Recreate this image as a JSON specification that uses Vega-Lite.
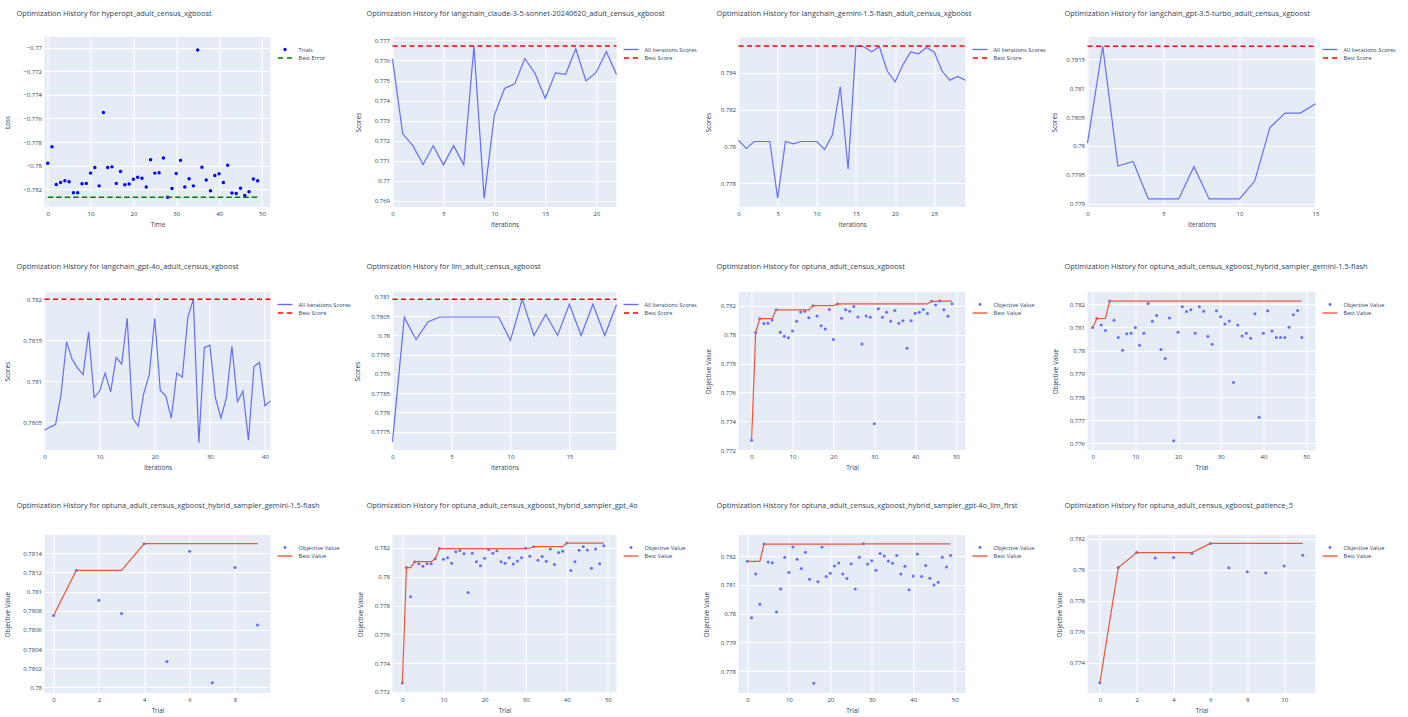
{
"$schema": "https://vega.github.io/schema/vega-lite/v6.json",
"background": "white",
"padding": {"left": 3.5, "top": 9, "right": 0, "bottom": 0},
"datasets": {
"p1": [{"x":0,"y":-0.77979,"b":-0.78267},{"x":1,"y":-0.77839,"b":-0.78267},{"x":2,"y":-0.78159,"b":-0.78267},{"x":3,"y":-0.78142,"b":-0.78267},{"x":4,"y":-0.78127,"b":-0.78267},{"x":5,"y":-0.78136,"b":-0.78267},{"x":6,"y":-0.78229,"b":-0.78267},{"x":7,"y":-0.78229,"b":-0.78267},{"x":8,"y":-0.78153,"b":-0.78267},{"x":9,"y":-0.7815,"b":-0.78267},{"x":10,"y":-0.78063,"b":-0.78267},{"x":11,"y":-0.78016,"b":-0.78267},{"x":12,"y":-0.78171,"b":-0.78267},{"x":13,"y":-0.7755,"b":-0.78267},{"x":14,"y":-0.78016,"b":-0.78267},{"x":15,"y":-0.7801,"b":-0.78267},{"x":16,"y":-0.7815,"b":-0.78267},{"x":17,"y":-0.78049,"b":-0.78267},{"x":18,"y":-0.78162,"b":-0.78267},{"x":19,"y":-0.78156,"b":-0.78267},{"x":20,"y":-0.78115,"b":-0.78267},{"x":21,"y":-0.78098,"b":-0.78267},{"x":22,"y":-0.78107,"b":-0.78267},{"x":23,"y":-0.7818,"b":-0.78267},{"x":24,"y":-0.77949,"b":-0.78267},{"x":25,"y":-0.78063,"b":-0.78267},{"x":26,"y":-0.7806,"b":-0.78267},{"x":27,"y":-0.77935,"b":-0.78267},{"x":28,"y":-0.78267,"b":-0.78267},{"x":29,"y":-0.78194,"b":-0.78267},{"x":30,"y":-0.78066,"b":-0.78267},{"x":31,"y":-0.77955,"b":-0.78267},{"x":32,"y":-0.7818,"b":-0.78267},{"x":33,"y":-0.7811,"b":-0.78267},{"x":34,"y":-0.78171,"b":-0.78267},{"x":35,"y":-0.7702,"b":-0.78267},{"x":36,"y":-0.78013,"b":-0.78267},{"x":37,"y":-0.78121,"b":-0.78267},{"x":38,"y":-0.78212,"b":-0.78267},{"x":39,"y":-0.78083,"b":-0.78267},{"x":40,"y":-0.78069,"b":-0.78267},{"x":41,"y":-0.78142,"b":-0.78267},{"x":42,"y":-0.77996,"b":-0.78267},{"x":43,"y":-0.78232,"b":-0.78267},{"x":44,"y":-0.78235,"b":-0.78267},{"x":45,"y":-0.78191,"b":-0.78267},{"x":46,"y":-0.78252,"b":-0.78267},{"x":47,"y":-0.7822,"b":-0.78267},{"x":48,"y":-0.78112,"b":-0.78267},{"x":49,"y":-0.78127,"b":-0.78267}],
"p2": [{"x":0,"y":0.77608,"b":0.77672},{"x":1,"y":0.77234,"b":0.77672},{"x":2,"y":0.77175,"b":0.77672},{"x":3,"y":0.77081,"b":0.77672},{"x":4,"y":0.77175,"b":0.77672},{"x":5,"y":0.77079,"b":0.77672},{"x":6,"y":0.77175,"b":0.77672},{"x":7,"y":0.77079,"b":0.77672},{"x":8,"y":0.77672,"b":0.77672},{"x":9,"y":0.76912,"b":0.77672},{"x":10,"y":0.77326,"b":0.77672},{"x":11,"y":0.7746,"b":0.77672},{"x":12,"y":0.77483,"b":0.77672},{"x":13,"y":0.7761,"b":0.77672},{"x":14,"y":0.77535,"b":0.77672},{"x":15,"y":0.77411,"b":0.77672},{"x":16,"y":0.77538,"b":0.77672},{"x":17,"y":0.77531,"b":0.77672},{"x":18,"y":0.77658,"b":0.77672},{"x":19,"y":0.77498,"b":0.77672},{"x":20,"y":0.7754,"b":0.77672},{"x":21,"y":0.77644,"b":0.77672},{"x":22,"y":0.7753,"b":0.77672}],
"p3": [{"x":0,"y":0.78033,"b":0.78546},{"x":1,"y":0.77989,"b":0.78546},{"x":2,"y":0.78027,"b":0.78546},{"x":3,"y":0.78027,"b":0.78546},{"x":4,"y":0.78027,"b":0.78546},{"x":5,"y":0.77719,"b":0.78546},{"x":6,"y":0.78027,"b":0.78546},{"x":7,"y":0.78014,"b":0.78546},{"x":8,"y":0.78027,"b":0.78546},{"x":9,"y":0.78027,"b":0.78546},{"x":10,"y":0.78027,"b":0.78546},{"x":11,"y":0.77984,"b":0.78546},{"x":12,"y":0.78063,"b":0.78546},{"x":13,"y":0.78326,"b":0.78546},{"x":14,"y":0.77876,"b":0.78546},{"x":15,"y":0.78546,"b":0.78546},{"x":16,"y":0.78542,"b":0.78546},{"x":17,"y":0.78515,"b":0.78546},{"x":18,"y":0.78542,"b":0.78546},{"x":19,"y":0.7841,"b":0.78546},{"x":20,"y":0.78351,"b":0.78546},{"x":21,"y":0.78444,"b":0.78546},{"x":22,"y":0.78514,"b":0.78546},{"x":23,"y":0.78504,"b":0.78546},{"x":24,"y":0.78538,"b":0.78546},{"x":25,"y":0.78514,"b":0.78546},{"x":26,"y":0.7841,"b":0.78546},{"x":27,"y":0.7836,"b":0.78546},{"x":28,"y":0.78381,"b":0.78546},{"x":29,"y":0.7836,"b":0.78546}],
"p4": [{"x":0,"y":0.78005,"b":0.78173},{"x":1,"y":0.78173,"b":0.78173},{"x":2,"y":0.77965,"b":0.78173},{"x":3,"y":0.77973,"b":0.78173},{"x":4,"y":0.77908,"b":0.78173},{"x":5,"y":0.77908,"b":0.78173},{"x":6,"y":0.77908,"b":0.78173},{"x":7,"y":0.77964,"b":0.78173},{"x":8,"y":0.77908,"b":0.78173},{"x":9,"y":0.77908,"b":0.78173},{"x":10,"y":0.77908,"b":0.78173},{"x":11,"y":0.77939,"b":0.78173},{"x":12,"y":0.78032,"b":0.78173},{"x":13,"y":0.78057,"b":0.78173},{"x":14,"y":0.78057,"b":0.78173},{"x":15,"y":0.78073,"b":0.78173}],
"p5": [{"x":0,"y":0.7804,"b":0.782},{"x":1,"y":0.78044,"b":0.782},{"x":2,"y":0.78047,"b":0.782},{"x":3,"y":0.78084,"b":0.782},{"x":4,"y":0.78148,"b":0.782},{"x":5,"y":0.78127,"b":0.782},{"x":6,"y":0.78116,"b":0.782},{"x":7,"y":0.78108,"b":0.782},{"x":8,"y":0.7816,"b":0.782},{"x":9,"y":0.7808,"b":0.782},{"x":10,"y":0.78088,"b":0.782},{"x":11,"y":0.7811,"b":0.782},{"x":12,"y":0.78087,"b":0.782},{"x":13,"y":0.78129,"b":0.782},{"x":14,"y":0.78121,"b":0.782},{"x":15,"y":0.78177,"b":0.782},{"x":16,"y":0.78055,"b":0.782},{"x":17,"y":0.78045,"b":0.782},{"x":18,"y":0.78085,"b":0.782},{"x":19,"y":0.78108,"b":0.782},{"x":20,"y":0.78177,"b":0.782},{"x":21,"y":0.78089,"b":0.782},{"x":22,"y":0.78082,"b":0.782},{"x":23,"y":0.78055,"b":0.782},{"x":24,"y":0.7811,"b":0.782},{"x":25,"y":0.78105,"b":0.782},{"x":26,"y":0.78178,"b":0.782},{"x":27,"y":0.782,"b":0.782},{"x":28,"y":0.78025,"b":0.782},{"x":29,"y":0.78141,"b":0.782},{"x":30,"y":0.78144,"b":0.782},{"x":31,"y":0.7808,"b":0.782},{"x":32,"y":0.78055,"b":0.782},{"x":33,"y":0.7808,"b":0.782},{"x":34,"y":0.78143,"b":0.782},{"x":35,"y":0.78075,"b":0.782},{"x":36,"y":0.78088,"b":0.782},{"x":37,"y":0.78028,"b":0.782},{"x":38,"y":0.78118,"b":0.782},{"x":39,"y":0.78123,"b":0.782},{"x":40,"y":0.7807,"b":0.782},{"x":41,"y":0.78076,"b":0.782}],
"p6": [{"x":0,"y":0.77723,"b":0.78094},{"x":1,"y":0.78047,"b":0.78094},{"x":2,"y":0.77989,"b":0.78094},{"x":3,"y":0.78035,"b":0.78094},{"x":4,"y":0.78048,"b":0.78094},{"x":5,"y":0.78048,"b":0.78094},{"x":6,"y":0.78048,"b":0.78094},{"x":7,"y":0.78048,"b":0.78094},{"x":8,"y":0.78048,"b":0.78094},{"x":9,"y":0.78048,"b":0.78094},{"x":10,"y":0.77987,"b":0.78094},{"x":11,"y":0.78094,"b":0.78094},{"x":12,"y":0.78,"b":0.78094},{"x":13,"y":0.78055,"b":0.78094},{"x":14,"y":0.78,"b":0.78094},{"x":15,"y":0.78081,"b":0.78094},{"x":16,"y":0.78,"b":0.78094},{"x":17,"y":0.78081,"b":0.78094},{"x":18,"y":0.78,"b":0.78094},{"x":19,"y":0.7808,"b":0.78094}],
"p7": [{"x":0,"y":0.77268,"b":0.77268},{"x":1,"y":0.78015,"b":0.78015},{"x":2,"y":0.78112,"b":0.78112},{"x":3,"y":0.78078,"b":0.78112},{"x":4,"y":0.7808,"b":0.78112},{"x":5,"y":0.78103,"b":0.78112},{"x":6,"y":0.78173,"b":0.78173},{"x":7,"y":0.78017,"b":0.78173},{"x":8,"y":0.7799,"b":0.78173},{"x":9,"y":0.77979,"b":0.78173},{"x":10,"y":0.78026,"b":0.78173},{"x":11,"y":0.78094,"b":0.78173},{"x":12,"y":0.78159,"b":0.78173},{"x":13,"y":0.78164,"b":0.78173},{"x":14,"y":0.78119,"b":0.78173},{"x":15,"y":0.78202,"b":0.78202},{"x":16,"y":0.7813,"b":0.78202},{"x":17,"y":0.78062,"b":0.78202},{"x":18,"y":0.7804,"b":0.78202},{"x":19,"y":0.78175,"b":0.78202},{"x":20,"y":0.77968,"b":0.78202},{"x":21,"y":0.78214,"b":0.78214},{"x":22,"y":0.78114,"b":0.78214},{"x":23,"y":0.78173,"b":0.78214},{"x":24,"y":0.78164,"b":0.78214},{"x":25,"y":0.78196,"b":0.78214},{"x":26,"y":0.78123,"b":0.78214},{"x":27,"y":0.77936,"b":0.78214},{"x":28,"y":0.7813,"b":0.78214},{"x":29,"y":0.78121,"b":0.78214},{"x":30,"y":0.77383,"b":0.78214},{"x":31,"y":0.7818,"b":0.78214},{"x":32,"y":0.78121,"b":0.78214},{"x":33,"y":0.78157,"b":0.78214},{"x":34,"y":0.78094,"b":0.78214},{"x":35,"y":0.78168,"b":0.78214},{"x":36,"y":0.7808,"b":0.78214},{"x":37,"y":0.78098,"b":0.78214},{"x":38,"y":0.77907,"b":0.78214},{"x":39,"y":0.78098,"b":0.78214},{"x":40,"y":0.7815,"b":0.78214},{"x":41,"y":0.78157,"b":0.78214},{"x":42,"y":0.78175,"b":0.78214},{"x":43,"y":0.78148,"b":0.78214},{"x":44,"y":0.78232,"b":0.78232},{"x":45,"y":0.78207,"b":0.78232},{"x":46,"y":0.78234,"b":0.78234},{"x":47,"y":0.78173,"b":0.78234},{"x":48,"y":0.78128,"b":0.78234},{"x":49,"y":0.78216,"b":0.78234}],
"p8": [{"x":0,"y":0.78099,"b":0.78099},{"x":1,"y":0.78138,"b":0.78138},{"x":2,"y":0.7811,"b":0.78138},{"x":3,"y":0.78086,"b":0.78138},{"x":4,"y":0.78213,"b":0.78213},{"x":5,"y":0.7813,"b":0.78213},{"x":6,"y":0.78056,"b":0.78213},{"x":7,"y":0.78001,"b":0.78213},{"x":8,"y":0.78072,"b":0.78213},{"x":9,"y":0.78074,"b":0.78213},{"x":10,"y":0.78099,"b":0.78213},{"x":11,"y":0.78023,"b":0.78213},{"x":12,"y":0.78074,"b":0.78213},{"x":13,"y":0.78203,"b":0.78213},{"x":14,"y":0.78126,"b":0.78213},{"x":15,"y":0.78151,"b":0.78213},{"x":16,"y":0.78004,"b":0.78213},{"x":17,"y":0.77966,"b":0.78213},{"x":18,"y":0.7814,"b":0.78213},{"x":19,"y":0.77612,"b":0.78213},{"x":20,"y":0.78079,"b":0.78213},{"x":21,"y":0.78189,"b":0.78213},{"x":22,"y":0.78168,"b":0.78213},{"x":23,"y":0.78176,"b":0.78213},{"x":24,"y":0.78074,"b":0.78213},{"x":25,"y":0.78189,"b":0.78213},{"x":26,"y":0.78169,"b":0.78213},{"x":27,"y":0.78061,"b":0.78213},{"x":28,"y":0.78027,"b":0.78213},{"x":29,"y":0.78171,"b":0.78213},{"x":30,"y":0.78145,"b":0.78213},{"x":31,"y":0.78114,"b":0.78213},{"x":32,"y":0.78127,"b":0.78213},{"x":33,"y":0.77862,"b":0.78213},{"x":34,"y":0.7811,"b":0.78213},{"x":35,"y":0.78063,"b":0.78213},{"x":36,"y":0.78075,"b":0.78213},{"x":37,"y":0.78053,"b":0.78213},{"x":38,"y":0.78158,"b":0.78213},{"x":39,"y":0.77713,"b":0.78213},{"x":40,"y":0.78075,"b":0.78213},{"x":41,"y":0.78171,"b":0.78213},{"x":42,"y":0.78084,"b":0.78213},{"x":43,"y":0.78056,"b":0.78213},{"x":44,"y":0.78056,"b":0.78213},{"x":45,"y":0.78056,"b":0.78213},{"x":46,"y":0.781,"b":0.78213},{"x":47,"y":0.78154,"b":0.78213},{"x":48,"y":0.78172,"b":0.78213},{"x":49,"y":0.78056,"b":0.78213}],
"p9": [{"x":0,"y":0.78075,"b":0.78075},{"x":1,"y":0.78122,"b":0.78122},{"x":2,"y":0.78091,"b":0.78122},{"x":3,"y":0.78077,"b":0.78122},{"x":4,"y":0.7815,"b":0.7815},{"x":5,"y":0.78027,"b":0.7815},{"x":6,"y":0.78142,"b":0.7815},{"x":7,"y":0.78005,"b":0.7815},{"x":8,"y":0.78125,"b":0.7815},{"x":9,"y":0.78065,"b":0.7815}],
"p10": [{"x":0,"y":0.77263,"b":0.77263},{"x":1,"y":0.78064,"b":0.78064},{"x":2,"y":0.77861,"b":0.78064},{"x":3,"y":0.78105,"b":0.78105},{"x":4,"y":0.78091,"b":0.78105},{"x":5,"y":0.78073,"b":0.78105},{"x":6,"y":0.78091,"b":0.78105},{"x":7,"y":0.78091,"b":0.78105},{"x":8,"y":0.78125,"b":0.78125},{"x":9,"y":0.78196,"b":0.78196},{"x":10,"y":0.78121,"b":0.78196},{"x":11,"y":0.78132,"b":0.78196},{"x":12,"y":0.78094,"b":0.78196},{"x":13,"y":0.78173,"b":0.78196},{"x":14,"y":0.78182,"b":0.78196},{"x":15,"y":0.78159,"b":0.78196},{"x":16,"y":0.7789,"b":0.78196},{"x":17,"y":0.78164,"b":0.78196},{"x":18,"y":0.78105,"b":0.78196},{"x":19,"y":0.78076,"b":0.78196},{"x":20,"y":0.78128,"b":0.78196},{"x":21,"y":0.78189,"b":0.78196},{"x":22,"y":0.78164,"b":0.78196},{"x":23,"y":0.7818,"b":0.78196},{"x":24,"y":0.78105,"b":0.78196},{"x":25,"y":0.78094,"b":0.78196},{"x":26,"y":0.78132,"b":0.78196},{"x":27,"y":0.78089,"b":0.78196},{"x":28,"y":0.7811,"b":0.78196},{"x":29,"y":0.78132,"b":0.78196},{"x":30,"y":0.78198,"b":0.78198},{"x":31,"y":0.78143,"b":0.78198},{"x":32,"y":0.78209,"b":0.78209},{"x":33,"y":0.78114,"b":0.78209},{"x":34,"y":0.78141,"b":0.78209},{"x":35,"y":0.78107,"b":0.78209},{"x":36,"y":0.78193,"b":0.78209},{"x":37,"y":0.78085,"b":0.78209},{"x":38,"y":0.78168,"b":0.78209},{"x":39,"y":0.78177,"b":0.78209},{"x":40,"y":0.78234,"b":0.78234},{"x":41,"y":0.78044,"b":0.78234},{"x":42,"y":0.78105,"b":0.78234},{"x":43,"y":0.78184,"b":0.78234},{"x":44,"y":0.78209,"b":0.78234},{"x":45,"y":0.78186,"b":0.78234},{"x":46,"y":0.7806,"b":0.78234},{"x":47,"y":0.78193,"b":0.78234},{"x":48,"y":0.78091,"b":0.78234},{"x":49,"y":0.78216,"b":0.78234}],
"p11": [{"x":0,"y":0.78182,"b":0.78182},{"x":1,"y":0.77986,"b":0.78182},{"x":2,"y":0.78138,"b":0.78182},{"x":3,"y":0.78033,"b":0.78182},{"x":4,"y":0.78242,"b":0.78242},{"x":5,"y":0.7818,"b":0.78242},{"x":6,"y":0.78177,"b":0.78242},{"x":7,"y":0.78006,"b":0.78242},{"x":8,"y":0.78086,"b":0.78242},{"x":9,"y":0.78196,"b":0.78242},{"x":10,"y":0.78143,"b":0.78242},{"x":11,"y":0.78232,"b":0.78242},{"x":12,"y":0.78189,"b":0.78242},{"x":13,"y":0.78157,"b":0.78242},{"x":14,"y":0.78214,"b":0.78242},{"x":15,"y":0.7812,"b":0.78242},{"x":16,"y":0.77758,"b":0.78242},{"x":17,"y":0.78111,"b":0.78242},{"x":18,"y":0.78232,"b":0.78242},{"x":19,"y":0.78129,"b":0.78242},{"x":20,"y":0.78141,"b":0.78242},{"x":21,"y":0.78166,"b":0.78242},{"x":22,"y":0.78176,"b":0.78242},{"x":23,"y":0.78138,"b":0.78242},{"x":24,"y":0.78122,"b":0.78242},{"x":25,"y":0.78174,"b":0.78242},{"x":26,"y":0.78086,"b":0.78242},{"x":27,"y":0.78196,"b":0.78242},{"x":28,"y":0.78243,"b":0.78243},{"x":29,"y":0.78173,"b":0.78243},{"x":30,"y":0.78184,"b":0.78243},{"x":31,"y":0.78151,"b":0.78243},{"x":32,"y":0.78209,"b":0.78243},{"x":33,"y":0.78201,"b":0.78243},{"x":34,"y":0.78183,"b":0.78243},{"x":35,"y":0.78175,"b":0.78243},{"x":36,"y":0.78202,"b":0.78243},{"x":37,"y":0.78138,"b":0.78243},{"x":38,"y":0.78165,"b":0.78243},{"x":39,"y":0.78083,"b":0.78243},{"x":40,"y":0.78131,"b":0.78243},{"x":41,"y":0.78208,"b":0.78243},{"x":42,"y":0.78129,"b":0.78243},{"x":43,"y":0.78168,"b":0.78243},{"x":44,"y":0.78123,"b":0.78243},{"x":45,"y":0.781,"b":0.78243},{"x":46,"y":0.78109,"b":0.78243},{"x":47,"y":0.78196,"b":0.78243},{"x":48,"y":0.78162,"b":0.78243},{"x":49,"y":0.78202,"b":0.78243}],
"p12": [{"x":0,"y":0.7727,"b":0.7727},{"x":1,"y":0.78015,"b":0.78015},{"x":2,"y":0.78112,"b":0.78112},{"x":3,"y":0.78076,"b":0.78112},{"x":4,"y":0.7808,"b":0.78112},{"x":5,"y":0.78105,"b":0.78112},{"x":6,"y":0.78171,"b":0.78171},{"x":7,"y":0.78013,"b":0.78171},{"x":8,"y":0.77987,"b":0.78171},{"x":9,"y":0.77979,"b":0.78171},{"x":10,"y":0.78025,"b":0.78171},{"x":11,"y":0.78095,"b":0.78171}]
},
"concat": [
{"width":226,"height":170,"title":{"text":"Optimization History for hyperopt_adult_census_xgboost","dx":-28,"offset":20},
 "data":{"name":"p1"},
 "encoding":{"x":{"field":"x","type":"quantitative","title":"Time","scale":{"domain":[-0.75,52],"nice":false,"zero":false},"axis":{"values":[0,10,20,30,40,50],"format":"d"}}},
 "layer":[
  {"mark":{"type":"point","filled":true,"color":"#0000ff","size":12,"opacity":1},"encoding":{"y":{"field":"y","type":"quantitative","title":"Loss","scale":{"domain":[-0.7835,-0.7691],"nice":false,"zero":false},"axis":{"values":[-0.782,-0.78,-0.778,-0.776,-0.774,-0.772,-0.77],"format":"~g","titlePadding":12.5}}}},
  {"mark":{"type":"line","color":"#008000","strokeWidth":1.5,"strokeDash":[5.5,3]},"encoding":{"y":{"field":"b","type":"quantitative","title":"Loss","scale":{"domain":[-0.7835,-0.7691],"nice":false,"zero":false},"axis":{"values":[-0.782,-0.78,-0.778,-0.776,-0.774,-0.772,-0.77],"format":"~g","titlePadding":12.5}}}},
  {"data":{"values":[]},"mark":{"type":"point","filled":true,"opacity":1},"encoding":{"color":{"field":"s","type":"nominal","scale":{"domain":["Trials","Best Error"],"range":["#0000ff","#008000"]},"legend":{"title":null}},"shape":{"field":"s","type":"nominal","scale":{"domain":["Trials","Best Error"],"range":["M0.38,0A0.38,0.38,0,1,1,-0.38,0A0.38,0.38,0,1,1,0.38,0Z","M-1.58,-0.17H-0.42V0.17H-1.58Z M0.42,-0.17H1.58V0.17H0.42Z"]},"legend":{"title":null}}}}
 ]},
{"width":224,"height":170,"title":{"text":"Optimization History for langchain_claude-3-5-sonnet-20240620_adult_census_xgboost","dx":-26,"offset":20},
 "data":{"name":"p2"},
 "encoding":{"x":{"field":"x","type":"quantitative","title":"Iterations","scale":{"domain":[0,22],"nice":false,"zero":false},"axis":{"values":[0,5,10,15,20],"format":"d"}}},
 "layer":[
  {"mark":{"type":"line","color":"#636efa","strokeWidth":1.2},"encoding":{"y":{"field":"y","type":"quantitative","title":"Scores","scale":{"domain":[0.76869,0.77717],"nice":false,"zero":false},"axis":{"values":[0.769,0.77,0.771,0.772,0.773,0.774,0.775,0.776,0.777],"format":"~g","titlePadding":12.7}}}},
  {"mark":{"type":"line","color":"#ff0000","strokeWidth":1.5,"strokeDash":[5,3.5]},"encoding":{"y":{"field":"b","type":"quantitative","title":"Scores","scale":{"domain":[0.76869,0.77717],"nice":false,"zero":false},"axis":{"values":[0.769,0.77,0.771,0.772,0.773,0.774,0.775,0.776,0.777],"format":"~g","titlePadding":12.7}}}},
  {"data":{"values":[]},"mark":{"type":"point","filled":true,"opacity":1},"encoding":{"color":{"field":"s","type":"nominal","scale":{"domain":["All Iterations Scores","Best Score"],"range":["#636efa","#ff0000"]},"legend":{"title":null}},"shape":{"field":"s","type":"nominal","scale":{"domain":["All Iterations Scores","Best Score"],"range":["M-1.67,-0.15H1.67V0.15H-1.67Z","M-1.58,-0.17H-0.42V0.17H-1.58Z M0.42,-0.17H1.58V0.17H0.42Z"]},"legend":{"title":null}}}}
 ]},
{"width":227,"height":170,"title":{"text":"Optimization History for langchain_gemini-1.5-flash_adult_census_xgboost","dx":-22,"offset":20},
 "data":{"name":"p3"},
 "encoding":{"x":{"field":"x","type":"quantitative","title":"Iterations","scale":{"domain":[0,29],"nice":false,"zero":false},"axis":{"values":[0,5,10,15,20,25],"format":"d"}}},
 "layer":[
  {"mark":{"type":"line","color":"#636efa","strokeWidth":1.2},"encoding":{"y":{"field":"y","type":"quantitative","title":"Scores","scale":{"domain":[0.77671,0.78595],"nice":false,"zero":false},"axis":{"values":[0.778,0.78,0.782,0.784],"format":"~g","titlePadding":8.7}}}},
  {"mark":{"type":"line","color":"#ff0000","strokeWidth":1.5,"strokeDash":[5,3.5]},"encoding":{"y":{"field":"b","type":"quantitative","title":"Scores","scale":{"domain":[0.77671,0.78595],"nice":false,"zero":false},"axis":{"values":[0.778,0.78,0.782,0.784],"format":"~g","titlePadding":8.7}}}},
  {"data":{"values":[]},"mark":{"type":"point","filled":true,"opacity":1},"encoding":{"color":{"field":"s","type":"nominal","scale":{"domain":["All Iterations Scores","Best Score"],"range":["#636efa","#ff0000"]},"legend":{"title":null}},"shape":{"field":"s","type":"nominal","scale":{"domain":["All Iterations Scores","Best Score"],"range":["M-1.67,-0.15H1.67V0.15H-1.67Z","M-1.58,-0.17H-0.42V0.17H-1.58Z M0.42,-0.17H1.58V0.17H0.42Z"]},"legend":{"title":null}}}}
 ]},
{"width":228,"height":170,"title":{"text":"Optimization History for langchain_gpt-3.5-turbo_adult_census_xgboost","dx":-23,"offset":20},
 "data":{"name":"p4"},
 "encoding":{"x":{"field":"x","type":"quantitative","title":"Iterations","scale":{"domain":[0,15],"nice":false,"zero":false},"axis":{"values":[0,5,10,15],"format":"d"}}},
 "layer":[
  {"mark":{"type":"line","color":"#636efa","strokeWidth":1.2},"encoding":{"y":{"field":"y","type":"quantitative","title":"Scores","scale":{"domain":[0.77894,0.78189],"nice":false,"zero":false},"axis":{"values":[0.779,0.7795,0.78,0.7805,0.781,0.7815],"format":"~g","titlePadding":8.7}}}},
  {"mark":{"type":"line","color":"#ff0000","strokeWidth":1.5,"strokeDash":[5,3.5]},"encoding":{"y":{"field":"b","type":"quantitative","title":"Scores","scale":{"domain":[0.77894,0.78189],"nice":false,"zero":false},"axis":{"values":[0.779,0.7795,0.78,0.7805,0.781,0.7815],"format":"~g","titlePadding":8.7}}}},
  {"data":{"values":[]},"mark":{"type":"point","filled":true,"opacity":1},"encoding":{"color":{"field":"s","type":"nominal","scale":{"domain":["All Iterations Scores","Best Score"],"range":["#636efa","#ff0000"]},"legend":{"title":null}},"shape":{"field":"s","type":"nominal","scale":{"domain":["All Iterations Scores","Best Score"],"range":["M-1.67,-0.15H1.67V0.15H-1.67Z","M-1.58,-0.17H-0.42V0.17H-1.58Z M0.42,-0.17H1.58V0.17H0.42Z"]},"legend":{"title":null}}}}
 ]},
{"width":226,"height":158,"title":{"text":"Optimization History for langchain_gpt-4o_adult_census_xgboost","dx":-28,"offset":22},
 "data":{"name":"p5"},
 "encoding":{"x":{"field":"x","type":"quantitative","title":"Iterations","scale":{"domain":[0,41],"nice":false,"zero":false},"axis":{"values":[0,10,20,30,40],"format":"d"}}},
 "layer":[
  {"mark":{"type":"line","color":"#636efa","strokeWidth":1.2},"encoding":{"y":{"field":"y","type":"quantitative","title":"Scores","scale":{"domain":[0.78016,0.78209],"nice":false,"zero":false},"axis":{"values":[0.7805,0.781,0.7815,0.782],"format":"~g","titlePadding":12.5}}}},
  {"mark":{"type":"line","color":"#ff0000","strokeWidth":1.5,"strokeDash":[5,3.5]},"encoding":{"y":{"field":"b","type":"quantitative","title":"Scores","scale":{"domain":[0.78016,0.78209],"nice":false,"zero":false},"axis":{"values":[0.7805,0.781,0.7815,0.782],"format":"~g","titlePadding":12.5}}}},
  {"data":{"values":[]},"mark":{"type":"point","filled":true,"opacity":1},"encoding":{"color":{"field":"s","type":"nominal","scale":{"domain":["All Iterations Scores","Best Score"],"range":["#636efa","#ff0000"]},"legend":{"title":null}},"shape":{"field":"s","type":"nominal","scale":{"domain":["All Iterations Scores","Best Score"],"range":["M-1.67,-0.15H1.67V0.15H-1.67Z","M-1.58,-0.17H-0.42V0.17H-1.58Z M0.42,-0.17H1.58V0.17H0.42Z"]},"legend":{"title":null}}}}
 ]},
{"width":224,"height":158,"title":{"text":"Optimization History for llm_adult_census_xgboost","dx":-26,"offset":22},
 "data":{"name":"p6"},
 "encoding":{"x":{"field":"x","type":"quantitative","title":"Iterations","scale":{"domain":[0,19],"nice":false,"zero":false},"axis":{"values":[0,5,10,15],"format":"d"}}},
 "layer":[
  {"mark":{"type":"line","color":"#636efa","strokeWidth":1.2},"encoding":{"y":{"field":"y","type":"quantitative","title":"Scores","scale":{"domain":[0.77702,0.78113],"nice":false,"zero":false},"axis":{"values":[0.7775,0.778,0.7785,0.779,0.7795,0.78,0.7805,0.781],"format":"~g","titlePadding":10.7}}}},
  {"mark":{"type":"line","color":"#ff0000","strokeWidth":1.5,"strokeDash":[5,3.5]},"encoding":{"y":{"field":"b","type":"quantitative","title":"Scores","scale":{"domain":[0.77702,0.78113],"nice":false,"zero":false},"axis":{"values":[0.7775,0.778,0.7785,0.779,0.7795,0.78,0.7805,0.781],"format":"~g","titlePadding":10.7}}}},
  {"data":{"values":[]},"mark":{"type":"point","filled":true,"opacity":1},"encoding":{"color":{"field":"s","type":"nominal","scale":{"domain":["All Iterations Scores","Best Score"],"range":["#636efa","#ff0000"]},"legend":{"title":null}},"shape":{"field":"s","type":"nominal","scale":{"domain":["All Iterations Scores","Best Score"],"range":["M-1.67,-0.15H1.67V0.15H-1.67Z","M-1.58,-0.17H-0.42V0.17H-1.58Z M0.42,-0.17H1.58V0.17H0.42Z"]},"legend":{"title":null}}}}
 ]},
{"width":227,"height":158,"title":{"text":"Optimization History for optuna_adult_census_xgboost","dx":-22,"offset":22},
 "data":{"name":"p7"},
 "encoding":{"x":{"field":"x","type":"quantitative","title":"Trial","scale":{"domain":[-3.2,52.3],"nice":false,"zero":false},"axis":{"values":[0,10,20,30,40,50],"format":"d"}}},
 "layer":[
  {"mark":{"type":"point","filled":true,"color":"#636efa","size":9,"opacity":1},"encoding":{"y":{"field":"y","type":"quantitative","title":"Objective Value","scale":{"domain":[0.772,0.78297],"nice":false,"zero":false},"axis":{"values":[0.772,0.774,0.776,0.778,0.78,0.782],"format":"~g","titlePadding":8.7}}}},
  {"mark":{"type":"line","color":"#EF553B","strokeWidth":1.2},"encoding":{"y":{"field":"b","type":"quantitative","title":"Objective Value","scale":{"domain":[0.772,0.78297],"nice":false,"zero":false},"axis":{"values":[0.772,0.774,0.776,0.778,0.78,0.782],"format":"~g","titlePadding":8.7}}}},
  {"data":{"values":[]},"mark":{"type":"point","filled":true,"opacity":1},"encoding":{"color":{"field":"s","type":"nominal","scale":{"domain":["Objective Value","Best Value"],"range":["#636efa","#EF553B"]},"legend":{"title":null}},"shape":{"field":"s","type":"nominal","scale":{"domain":["Objective Value","Best Value"],"range":["M0.33,0A0.33,0.33,0,1,1,-0.33,0A0.33,0.33,0,1,1,0.33,0Z","M-1.67,-0.15H1.67V0.15H-1.67Z"]},"legend":{"title":null}}}}
 ]},
{"width":228,"height":158,"title":{"text":"Optimization History for optuna_adult_census_xgboost_hybrid_sampler_gemini-1.5-flash","dx":-23,"offset":22},
 "data":{"name":"p8"},
 "encoding":{"x":{"field":"x","type":"quantitative","title":"Trial","scale":{"domain":[-1.2,52.2],"nice":false,"zero":false},"axis":{"values":[0,10,20,30,40,50],"format":"d"}}},
 "layer":[
  {"mark":{"type":"point","filled":true,"color":"#636efa","size":9,"opacity":1},"encoding":{"y":{"field":"y","type":"quantitative","title":"Objective Value","scale":{"domain":[0.77572,0.78252],"nice":false,"zero":false},"axis":{"values":[0.776,0.777,0.778,0.779,0.78,0.781,0.782],"format":"~g","titlePadding":10.7}}}},
  {"mark":{"type":"line","color":"#EF553B","strokeWidth":1.2},"encoding":{"y":{"field":"b","type":"quantitative","title":"Objective Value","scale":{"domain":[0.77572,0.78252],"nice":false,"zero":false},"axis":{"values":[0.776,0.777,0.778,0.779,0.78,0.781,0.782],"format":"~g","titlePadding":10.7}}}},
  {"data":{"values":[]},"mark":{"type":"point","filled":true,"opacity":1},"encoding":{"color":{"field":"s","type":"nominal","scale":{"domain":["Objective Value","Best Value"],"range":["#636efa","#EF553B"]},"legend":{"title":null}},"shape":{"field":"s","type":"nominal","scale":{"domain":["Objective Value","Best Value"],"range":["M0.33,0A0.33,0.33,0,1,1,-0.33,0A0.33,0.33,0,1,1,0.33,0Z","M-1.67,-0.15H1.67V0.15H-1.67Z"]},"legend":{"title":null}}}}
 ]},
{"width":226,"height":158,"title":{"text":"Optimization History for optuna_adult_census_xgboost_hybrid_sampler_gemini-1.5-flash","dx":-28,"offset":26},
 "data":{"name":"p9"},
 "encoding":{"x":{"field":"x","type":"quantitative","title":"Trial","scale":{"domain":[-0.4,9.57],"nice":false,"zero":false},"axis":{"values":[0,2,4,6,8],"format":"d"}}},
 "layer":[
  {"mark":{"type":"point","filled":true,"color":"#636efa","size":9,"opacity":1},"encoding":{"y":{"field":"y","type":"quantitative","title":"Objective Value","scale":{"domain":[0.779942,0.78159],"nice":false,"zero":false},"axis":{"values":[0.78,0.7802,0.7804,0.7806,0.7808,0.781,0.7812,0.7814,0.7816],"format":"~g","titlePadding":12.5}}}},
  {"mark":{"type":"line","color":"#EF553B","strokeWidth":1.2},"encoding":{"y":{"field":"b","type":"quantitative","title":"Objective Value","scale":{"domain":[0.779942,0.78159],"nice":false,"zero":false},"axis":{"values":[0.78,0.7802,0.7804,0.7806,0.7808,0.781,0.7812,0.7814,0.7816],"format":"~g","titlePadding":12.5}}}},
  {"data":{"values":[]},"mark":{"type":"point","filled":true,"opacity":1},"encoding":{"color":{"field":"s","type":"nominal","scale":{"domain":["Objective Value","Best Value"],"range":["#636efa","#EF553B"]},"legend":{"title":null}},"shape":{"field":"s","type":"nominal","scale":{"domain":["Objective Value","Best Value"],"range":["M0.33,0A0.33,0.33,0,1,1,-0.33,0A0.33,0.33,0,1,1,0.33,0Z","M-1.67,-0.15H1.67V0.15H-1.67Z"]},"legend":{"title":null}}}}
 ]},
{"width":224,"height":158,"title":{"text":"Optimization History for optuna_adult_census_xgboost_hybrid_sampler_gpt_4o","dx":-26,"offset":26},
 "data":{"name":"p10"},
 "encoding":{"x":{"field":"x","type":"quantitative","title":"Trial","scale":{"domain":[-2.4,52.1],"nice":false,"zero":false},"axis":{"values":[0,10,20,30,40,50],"format":"d"}}},
 "layer":[
  {"mark":{"type":"point","filled":true,"color":"#636efa","size":9,"opacity":1},"encoding":{"y":{"field":"y","type":"quantitative","title":"Objective Value","scale":{"domain":[0.77193,0.7829],"nice":false,"zero":false},"axis":{"values":[0.772,0.774,0.776,0.778,0.78,0.782],"format":"~g","titlePadding":10.7}}}},
  {"mark":{"type":"line","color":"#EF553B","strokeWidth":1.2},"encoding":{"y":{"field":"b","type":"quantitative","title":"Objective Value","scale":{"domain":[0.77193,0.7829],"nice":false,"zero":false},"axis":{"values":[0.772,0.774,0.776,0.778,0.78,0.782],"format":"~g","titlePadding":10.7}}}},
  {"data":{"values":[]},"mark":{"type":"point","filled":true,"opacity":1},"encoding":{"color":{"field":"s","type":"nominal","scale":{"domain":["Objective Value","Best Value"],"range":["#636efa","#EF553B"]},"legend":{"title":null}},"shape":{"field":"s","type":"nominal","scale":{"domain":["Objective Value","Best Value"],"range":["M0.33,0A0.33,0.33,0,1,1,-0.33,0A0.33,0.33,0,1,1,0.33,0Z","M-1.67,-0.15H1.67V0.15H-1.67Z"]},"legend":{"title":null}}}}
 ]},
{"width":227,"height":158,"title":{"text":"Optimization History for optuna_adult_census_xgboost_hybrid_sampler_gpt-4o_llm_first","dx":-22,"offset":26},
 "data":{"name":"p11"},
 "encoding":{"x":{"field":"x","type":"quantitative","title":"Trial","scale":{"domain":[-2.15,52.6],"nice":false,"zero":false},"axis":{"values":[0,10,20,30,40,50],"format":"d"}}},
 "layer":[
  {"mark":{"type":"point","filled":true,"color":"#636efa","size":9,"opacity":1},"encoding":{"y":{"field":"y","type":"quantitative","title":"Objective Value","scale":{"domain":[0.777241,0.782737],"nice":false,"zero":false},"axis":{"values":[0.778,0.779,0.78,0.781,0.782],"format":"~g","titlePadding":10.7}}}},
  {"mark":{"type":"line","color":"#EF553B","strokeWidth":1.2},"encoding":{"y":{"field":"b","type":"quantitative","title":"Objective Value","scale":{"domain":[0.777241,0.782737],"nice":false,"zero":false},"axis":{"values":[0.778,0.779,0.78,0.781,0.782],"format":"~g","titlePadding":10.7}}}},
  {"data":{"values":[]},"mark":{"type":"point","filled":true,"opacity":1},"encoding":{"color":{"field":"s","type":"nominal","scale":{"domain":["Objective Value","Best Value"],"range":["#636efa","#EF553B"]},"legend":{"title":null}},"shape":{"field":"s","type":"nominal","scale":{"domain":["Objective Value","Best Value"],"range":["M0.33,0A0.33,0.33,0,1,1,-0.33,0A0.33,0.33,0,1,1,0.33,0Z","M-1.67,-0.15H1.67V0.15H-1.67Z"]},"legend":{"title":null}}}}
 ]},
{"width":228,"height":158,"title":{"text":"Optimization History for optuna_adult_census_xgboost_patience_5","dx":-23,"offset":26},
 "data":{"name":"p12"},
 "encoding":{"x":{"field":"x","type":"quantitative","title":"Trial","scale":{"domain":[-0.67,11.7],"nice":false,"zero":false},"axis":{"values":[0,2,4,6,8,10],"format":"d"}}},
 "layer":[
  {"mark":{"type":"point","filled":true,"color":"#636efa","size":9,"opacity":1},"encoding":{"y":{"field":"y","type":"quantitative","title":"Objective Value","scale":{"domain":[0.772042,0.782253],"nice":false,"zero":false},"axis":{"values":[0.774,0.776,0.778,0.78,0.782],"format":"~g","titlePadding":6.7}}}},
  {"mark":{"type":"line","color":"#EF553B","strokeWidth":1.2},"encoding":{"y":{"field":"b","type":"quantitative","title":"Objective Value","scale":{"domain":[0.772042,0.782253],"nice":false,"zero":false},"axis":{"values":[0.774,0.776,0.778,0.78,0.782],"format":"~g","titlePadding":6.7}}}},
  {"data":{"values":[]},"mark":{"type":"point","filled":true,"opacity":1},"encoding":{"color":{"field":"s","type":"nominal","scale":{"domain":["Objective Value","Best Value"],"range":["#636efa","#EF553B"]},"legend":{"title":null}},"shape":{"field":"s","type":"nominal","scale":{"domain":["Objective Value","Best Value"],"range":["M0.33,0A0.33,0.33,0,1,1,-0.33,0A0.33,0.33,0,1,1,0.33,0Z","M-1.67,-0.15H1.67V0.15H-1.67Z"]},"legend":{"title":null}}}}
 ]}
],
"columns": 4,
"spacing": {"row": 85, "column": 122},
"bounds": "flush",
"align": "each",
"resolve": {"scale": {"color": "independent", "shape": "independent"}},
"config": {
 "font": "Open Sans",
 "view": {"fill": "#E5ECF6", "stroke": null},
 "axis": {"domain": false, "ticks": false, "grid": true, "gridColor": "#ffffff", "gridWidth": 1, "labelFontSize": 6, "labelColor": "#2a3f5f", "labelPadding": 3, "labelFlush": false, "labelOverlap": false, "titleFontSize": 6.3, "titleColor": "#2a3f5f", "titleFontWeight": "normal", "titlePadding": 5},
 "legend": {"orient": "right", "offset": -1, "padding": 8, "symbolSize": 81, "symbolOffset": 3, "symbolStrokeWidth": 0, "symbolOpacity": 1, "labelFontSize": 5.7, "labelColor": "#2a3f5f", "labelOffset": 9, "rowPadding": 0.5},
 "title": {"anchor": "start", "frame": "group", "fontSize": 7.4, "fontWeight": "normal", "color": "#2a3f5f"}
}
}
